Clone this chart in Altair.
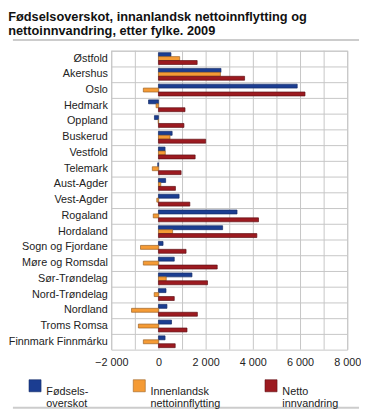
import altair as alt
import pandas as pd

counties = ["Østfold", "Akershus", "Oslo", "Hedmark", "Oppland", "Buskerud", "Vestfold",
            "Telemark", "Aust-Agder", "Vest-Agder", "Rogaland", "Hordaland",
            "Sogn og Fjordane", "Møre og Romsdal", "Sør-Trøndelag", "Nord-Trøndelag",
            "Nordland", "Troms Romsa", "Finnmark Finnmárku"]
fodsel = [530, 2650, 5880, -420, -170, 580, 280, -30, 305, 875, 3330, 2720,
          195, 670, 1420, 320, 360, 555, 280]
innenlandsk = [900, 2625, -640, -100, -10, 490, 290, -260, 100, -70, -220, 600,
               -760, -640, 330, -180, -1140, -850, -640]
netto = [1640, 3650, 6210, 1125, 1080, 2000, 1555, 960, 720, 1330, 4240, 4170,
         1170, 2490, 2080, 670, 1650, 1210, 710]
series = ["Fødsels-|overskot", "Innenlandsk|nettoinnflytting", "Netto|innvandring"]
colors = ["#1b3d91", "#f59b35", "#9c1a20"]
outlines = ["#142c66", "#9a6226", "#5e1014"]
grid_values = list(range(-2000, 8001, 1000))

rows = []
for i, c in enumerate(counties):
    for s, vals in zip(series, [fodsel, innenlandsk, netto]):
        rows.append({"fylke": c, "serie": s, "verdi": vals[i]})
df = pd.DataFrame(rows)

font = "Liberation Sans"
grid_col = "#c6c6c6"

yscale = alt.Scale(domain=counties, paddingInner=0, paddingOuter=0)
xscale = alt.Scale(domain=[-2000, 8000], nice=False)

vgrid = alt.Chart(pd.DataFrame({"g": grid_values})).mark_rule(
    color=grid_col, strokeWidth=1).encode(
    x=alt.X("g:Q", scale=xscale), xOffset=alt.value(0.5))
hgrid = alt.Chart(pd.DataFrame({"fylke": counties})).mark_rule(
    color=grid_col, strokeWidth=1).encode(
    y=alt.Y("fylke:N", sort=counties, scale=yscale, bandPosition=0),
    yOffset=alt.value(0.5))

bars = alt.Chart(df).mark_bar(strokeWidth=0.7).encode(
    y=alt.Y("fylke:N", sort=counties, title=None, scale=yscale,
            axis=alt.Axis(labelFont=font, labelFontSize=11, labelColor="#222222",
                          ticks=False, domain=False, labelPadding=4, labelLimit=200,
                          minExtent=96, maxExtent=96, grid=False)),
    yOffset=alt.YOffset("serie:N", sort=series,
                        scale=alt.Scale(paddingInner=0, paddingOuter=0.5)),
    x=alt.X("verdi:Q", title=None, scale=xscale,
            axis=alt.Axis(values=grid_values,
                          labelExpr="datum.value % 2000 == 0 ? replace(format(datum.value, ','), ',', ' ') : ''",
                          labelFont=font, labelFontSize=11, labelColor="#222222",
                          labelFlush=False,
                          ticks=False, domain=False, labelPadding=7, grid=False)),
    stroke=alt.Stroke("serie:N", sort=series,
                      scale=alt.Scale(domain=series, range=outlines), legend=None),
    color=alt.Color("serie:N", sort=series,
                    scale=alt.Scale(domain=series, range=colors),
                    legend=alt.Legend(title=None, orient="none", legendX=-84, legendY=334,
                                      direction="horizontal", columns=3, columnPadding=44,
                                      symbolType="square", symbolSize=150,
                                      symbolStrokeColor="#333333", symbolStrokeWidth=0.6,
                                      labelFont=font, labelFontSize=11, labelColor="#222222",
                                      labelExpr="split(datum.label, '|')",
                                      labelBaseline="top", labelOffset=5, labelLimit=200)),
)

line_df = pd.DataFrame({"y": [0]})
top_line = alt.Chart(line_df).mark_rule(color="#cccccc", strokeWidth=2).encode(
    x=alt.value(-100), x2=alt.value(252), y=alt.value(-11))
bottom_line = alt.Chart(line_df).mark_rule(color="#cccccc", strokeWidth=2).encode(
    x=alt.value(-100), x2=alt.value(252), y=alt.value(363))

chart = alt.layer(vgrid, hgrid, bars, top_line, bottom_line).properties(
    width=240, height=304,
    padding=0,
    title=alt.TitleParams(
        ["Fødselsoverskot, innanlandsk nettoinnflytting og", "nettoinnvandring, etter fylke. 2009"],
        anchor="start", frame="bounds", offset=1, font=font, fontSize=13,
        fontWeight="bold", color="#111111", lineHeight=14),
).configure_view(stroke=grid_col)

chart.save("out.html", embed_options={"renderer": "svg", "actions": False})
